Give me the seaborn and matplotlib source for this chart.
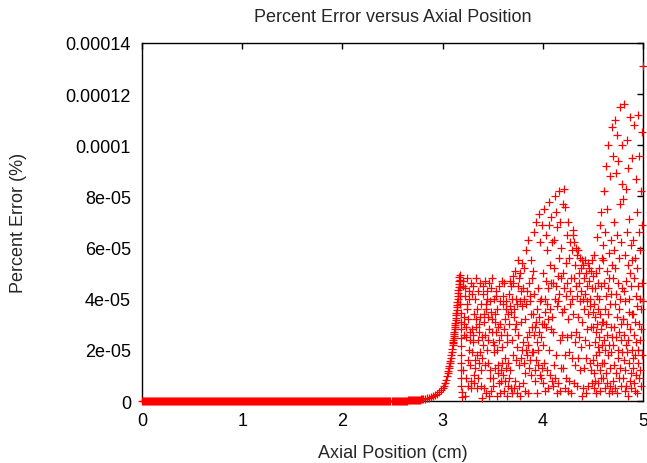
import numpy as np
import pandas as pd
import matplotlib
matplotlib.use("Agg")
import matplotlib.pyplot as plt
import seaborn as sns

# Percent error (units of 1e-5 %)

# flat part, 0 .. 2.49 cm, error reads as zero all along
flat_err = [0, 0, 0, 0, 0, 0, 0, 0, 0, 0, 0, 0, 0, 0, 0, 0, 0, 0, 0, 0, 0, 0, 0, 0, 0,
            0, 0, 0, 0, 0, 0, 0, 0, 0, 0, 0, 0, 0, 0, 0, 0, 0, 0, 0, 0, 0, 0, 0, 0, 0,
            0, 0, 0, 0, 0, 0, 0, 0, 0, 0, 0, 0, 0, 0, 0, 0, 0, 0, 0, 0, 0, 0, 0, 0, 0,
            0, 0, 0, 0, 0, 0, 0, 0, 0, 0, 0, 0, 0, 0, 0, 0, 0, 0, 0, 0, 0, 0, 0, 0, 0,
            0, 0, 0, 0, 0, 0, 0, 0, 0, 0, 0, 0, 0, 0, 0, 0, 0, 0, 0, 0, 0, 0, 0, 0, 0,
            0, 0, 0, 0, 0, 0, 0, 0, 0, 0, 0, 0, 0, 0, 0, 0, 0, 0, 0, 0, 0, 0, 0, 0, 0,
            0, 0, 0, 0, 0, 0, 0, 0, 0, 0, 0, 0, 0, 0, 0, 0, 0, 0, 0, 0, 0, 0, 0, 0, 0,
            0, 0, 0, 0, 0, 0, 0, 0, 0, 0, 0, 0, 0, 0, 0, 0, 0, 0, 0, 0, 0, 0, 0, 0, 0,
            0, 0, 0, 0, 0, 0, 0, 0, 0, 0, 0, 0, 0, 0, 0, 0, 0, 0, 0, 0, 0, 0, 0, 0, 0,
            0, 0, 0, 0, 0, 0, 0, 0, 0, 0, 0, 0, 0, 0, 0, 0, 0, 0, 0, 0, 0, 0, 0, 0, 0]
flat_start, flat_stop = 0.0, 2.49

# the rise up to the peak near 3.17 cm
rise_pos = [2.50, 2.51, 2.52, 2.53, 2.54, 2.55, 2.56, 2.57, 2.58, 2.59,
            2.60, 2.61, 2.62, 2.63, 2.64, 2.65, 2.66, 2.67, 2.68, 2.69,
            2.70, 2.71, 2.72, 2.73, 2.74, 2.75, 2.76, 2.77, 2.78, 2.79, 2.80,
            2.82, 2.84, 2.86, 2.88, 2.90, 2.92, 2.94, 2.96, 2.98,
            3.00, 3.01, 3.02, 3.03, 3.04, 3.05, 3.055, 3.06, 3.065, 3.07, 3.075, 3.08, 3.085, 3.09, 3.095,
            3.1000, 3.1025, 3.1050, 3.1075, 3.1100, 3.1125, 3.1150, 3.1175, 3.1200, 3.1225, 3.1250, 3.1275,
            3.1300, 3.1325, 3.1350, 3.1375, 3.1400, 3.1425, 3.1450, 3.1475, 3.1500, 3.1525, 3.1550, 3.1575,
            3.1600, 3.1625, 3.1650, 3.1675, 3.1690]
rise_err = [0.005, 0.0055, 0.006, 0.0065, 0.007, 0.008, 0.0085, 0.0095, 0.0105, 0.011,
            0.012, 0.0135, 0.015, 0.0165, 0.018, 0.02, 0.022, 0.024, 0.026, 0.028,
            0.03, 0.034, 0.038, 0.042, 0.046, 0.05, 0.054, 0.058, 0.063, 0.069, 0.075,
            0.09, 0.11, 0.13, 0.155, 0.19, 0.23, 0.28, 0.34, 0.42,
            0.52, 0.60, 0.70, 0.82, 0.96, 1.10, 1.19, 1.28, 1.37, 1.47, 1.57, 1.68, 1.80, 1.92, 2.05,
            2.18, 2.25, 2.32, 2.39, 2.47, 2.55, 2.63, 2.71, 2.80, 2.89, 2.98, 3.07,
            3.16, 3.26, 3.36, 3.46, 3.56, 3.66, 3.77, 3.88, 3.99, 4.10, 4.22, 4.34,
            4.46, 4.58, 4.71, 4.84, 4.93]

# the steep drop right after the peak
drop_pos = [3.175, 3.176, 3.177, 3.178, 3.179, 3.180, 3.181, 3.182,
            3.183, 3.184, 3.185, 3.186, 3.187, 3.188, 3.189, 3.190]
drop_err = [4.75, 4.45, 4.10, 3.80, 3.45, 3.10, 2.80, 2.45,
            2.15, 1.80, 1.50, 1.20, 0.90, 0.60, 0.35, 0.15]

# scattered part A, 3.2 .. 4.5 cm (two lines per 0.1 cm)
scatter_a_start, scatter_a_stop = 3.2, 4.4967
scatter_a_err = [
    4.7, 4.5, 1.2, 3.3, 3.0, 2.6, 0.2, 4.1, 4.4, 2.5, 2.9, 0.9, 3.8, 3.6, 4.8,
    1.6, 0.6, 3.2, 2.0, 4.3, 4.0, 2.7, 2.4, 1.4, 4.6, 0.8, 0.5, 2.8, 1.9, 4.2,
    2.6, 2.3, 4.5, 0.7, 1.0, 3.4, 1.6, 1.3, 4.0, 2.9, 3.2, 4.8, 1.8, 0.5, 3.6,
    2.4, 0.9, 4.3, 1.5, 2.7, 3.0, 1.9, 4.6, 3.3, 0.6, 1.2, 3.8, 2.5, 0.1, 1.7,
    4.2, 4.5, 2.2, 0.5, 3.1, 3.4, 1.4, 4.7, 2.6, 0.3, 3.8, 3.6, 2.0, 4.0, 4.3,
    2.4, 3.3, 1.5, 4.6, 0.2, 2.8, 3.9, 1.2, 0.9, 4.4, 3.5, 0.4, 2.7, 4.8, 3.2,
    2.3, 0.6, 0.9, 4.0, 1.9, 2.2, 1.3, 3.1, 3.4, 2.7, 4.3, 4.1, 0.2, 3.6, 2.0,
    1.1, 1.4, 2.9, 0.7, 4.5, 2.4, 3.9, 0.3, 3.0, 1.2, 2.6, 0.8, 4.7, 2.1, 1.5,
    3.8, 4.1, 1.0, 2.8, 0.4, 4.6, 1.7, 3.2, 0.8, 3.6, 3.9, 1.3, 0.2, 2.6, 2.3,
    1.5, 3.4, 0.6, 4.2, 3.0, 0.9, 4.7, 3.7, 1.2, 0.5, 3.5, 4.5, 2.4, 0.3, 4.0,
    1.8, 4.6, 4.9, 0.5, 3.3, 3.6, 5.1, 2.8, 0.8, 4.0, 1.6, 3.0, 2.1, 0.3, 3.8,
    4.5, 2.6, 5.5, 0.6, 1.4, 4.8, 3.9, 0.2, 5.0, 1.7, 4.3, 3.1, 5.4, 2.0, 3.7,
    4.4, 2.3, 0.7, 5.2, 1.5, 4.0, 0.4, 3.2, 1.1, 2.0, 5.9, 3.8, 2.5, 1.8, 4.3,
    0.3, 2.2, 6.3, 1.3, 4.6, 2.7, 3.9, 1.6, 4.1, 5.5, 1.0, 3.4, 2.9, 4.8, 1.9,
    3.4, 1.9, 5.1, 4.2, 2.6, 6.6, 1.2, 2.9, 0.8, 3.1, 7.0, 1.6, 2.3, 0.3, 3.6,
    1.4, 4.4, 2.0, 3.3, 7.3, 2.7, 1.0, 3.9, 6.2, 2.5, 0.9, 4.0, 1.3, 3.0, 6.9,
    5.0, 2.2, 0.7, 3.0, 1.5, 7.5, 4.0, 0.4, 3.5, 6.5, 2.9, 4.7, 3.8, 1.2, 5.9,
    4.4, 0.5, 3.2, 7.8, 2.0, 6.9, 1.0, 3.6, 5.3, 2.8, 4.6, 7.2, 3.3, 0.8, 6.2,
    2.7, 4.6, 0.6, 6.3, 1.4, 5.2, 8.0, 4.0, 0.9, 7.4, 1.8, 4.5, 0.3, 3.7, 6.8,
    4.9, 0.7, 3.9, 5.6, 4.2, 8.2, 2.4, 0.4, 7.0, 1.3, 4.8, 6.0, 3.5, 2.6, 7.7,
    5.0, 1.3, 3.6, 8.3, 4.4, 0.5, 7.6, 1.8, 5.4, 4.1, 0.9, 6.5, 2.5, 4.6, 0.4,
    3.2, 7.0, 1.9, 5.6, 0.8, 4.3, 3.8, 6.2, 2.6, 4.8, 0.3, 5.9, 1.7, 4.0, 6.7,
    6.5, 3.4, 0.7, 4.8, 6.2, 1.4, 5.3, 2.3, 4.5, 6.0, 2.7, 5.7, 0.6, 4.1, 5.9,
    1.7, 3.3, 5.0, 2.5, 4.6, 5.6, 1.2, 3.9, 2.1, 5.2, 4.3, 3.1, 5.5, 0.2, 4.0,
    5.3, 0.5, 3.6, 4.8, 1.3, 5.5, 2.4, 4.2, 1.7, 5.0, 0.3, 3.9, 4.5, 2.8, 5.4,
    0.6, 3.4, 4.7, 2.2, 5.2, 3.7, 1.5, 4.0, 2.9, 5.1, 1.2, 4.4, 5.5, 0.7, 3.5]

# scattered part B, 4.5 .. 5.0 cm (two lines per 0.1 cm)
scatter_b_start, scatter_b_stop = 4.5, 5.0
scatter_b_err = [
    4.9, 1.6, 2.9, 0.5, 3.8, 5.7, 1.1, 4.4, 2.3, 0.8, 3.3, 1.8, 5.0, 2.7, 0.3, 4.1, 3.0, 6.4, 1.4, 2.1,
    4.6, 0.7, 3.6, 1.9, 5.2, 2.5, 4.0, 0.4, 6.9, 3.4, 1.2, 2.8, 4.5, 0.9, 7.4, 3.1, 1.5, 5.6, 2.2, 6.1,
    3.1, 0.9, 5.5, 2.4, 8.2, 4.6, 1.5, 3.6, 0.5, 6.6, 2.0, 4.1, 9.2, 1.1, 3.0, 5.1, 0.7, 2.6, 7.5, 4.4,
    1.8, 3.4, 10.0, 0.3, 5.8, 2.2, 4.8, 1.3, 8.8, 3.8, 0.6, 2.9, 6.3, 1.9, 4.2, 10.7, 2.5, 0.4, 5.3, 9.6,
    2.2, 4.8, 0.8, 7.0, 2.9, 5.9, 1.4, 11.0, 3.8, 0.5, 5.2, 2.5, 8.9, 4.2, 1.1, 3.3, 10.4, 0.3, 6.5, 2.0,
    4.6, 1.7, 9.4, 3.6, 0.9, 5.6, 2.7, 11.5, 4.0, 1.3, 7.7, 3.0, 0.6, 6.2, 2.4, 8.5, 1.9, 4.4, 10.0, 3.2,
    0.9, 3.2, 7.9, 1.6, 4.3, 2.6, 11.6, 0.4, 5.7, 3.9, 1.2, 8.3, 2.2, 4.7, 0.6, 6.6, 3.0, 10.2, 1.9, 5.3,
    2.4, 0.2, 9.1, 4.0, 1.5, 3.5, 7.1, 0.8, 5.0, 11.1, 2.8, 1.1, 4.5, 6.1, 0.5, 3.4, 9.5, 2.0, 5.5, 1.7,
    3.4, 1.3, 6.3, 2.6, 4.8, 0.7, 10.8, 3.1, 1.8, 5.6, 0.4, 8.7, 2.3, 4.1, 1.0, 7.4, 3.7, 0.3, 5.2, 2.0,
    11.2, 4.5, 1.5, 6.6, 3.0, 0.9, 9.6, 2.4, 4.0, 1.2, 5.9, 3.6, 8.2, 0.6, 2.8, 4.6, 10.5, 1.8, 6.9, 3.9,
    13.1]

x_ticks = [0, 1, 2, 3, 4, 5]
y_ticks = [0, 2e-5, 4e-5, 6e-5, 8e-5, 1e-4, 1.2e-4, 1.4e-4]
y_tick_labels = ["0", "2e-05", "4e-05", "6e-05", "8e-05", "0.0001", "0.00012", "0.00014"]

flat_pos = np.linspace(flat_start, flat_stop, len(flat_err))
scatter_a_pos = np.linspace(scatter_a_start, scatter_a_stop, len(scatter_a_err))
scatter_b_pos = np.linspace(scatter_b_start, scatter_b_stop, len(scatter_b_err))

df = pd.DataFrame({
    "pos": np.concatenate([flat_pos, rise_pos, drop_pos, scatter_a_pos, scatter_b_pos]),
    "err": np.concatenate([flat_err, rise_err, drop_err, scatter_a_err, scatter_b_err]) * 1e-5,
})

sns.set_theme(style="white")
plt.rcParams["font.family"] = ["Liberation Sans", "DejaVu Sans"]

fig = plt.figure(figsize=(6.47, 4.64), dpi=100)
ax = fig.add_axes([0.2195, 0.1336, 0.7743, 0.7716])

sns.scatterplot(data=df, x="pos", y="err", marker="+", color="#ff0000", edgecolor="#ff0000",
                s=30, linewidth=0.9, ax=ax, clip_on=False, zorder=3)

ax.set_xlim(0, 5)
ax.set_ylim(0, 1.4e-4)
ax.set_xticks(x_ticks)
ax.set_xticklabels([str(t) for t in x_ticks])
ax.set_yticks(y_ticks)
ax.set_yticklabels(y_tick_labels)

for sp in ax.spines.values():
    sp.set_color("black")
    sp.set_linewidth(1.0)
ax.tick_params(direction="in", length=4.5, width=1, top=True, right=True,
               labelsize=13, colors="black", pad=8)

ax.set_title("Percent Error versus Axial Position", fontsize=13, pad=16)
ax.set_xlabel("Axial Position (cm)", fontsize=13, labelpad=11)
ax.set_ylabel("Percent Error (%)", fontsize=13, labelpad=28)

fig.savefig("out.png", dpi=100)
